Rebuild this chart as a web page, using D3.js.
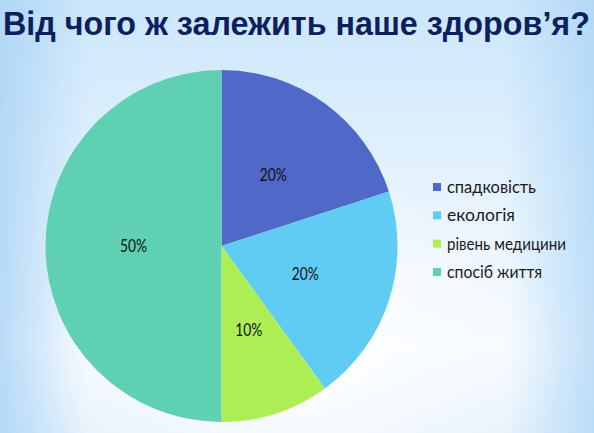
<!DOCTYPE html>
<html>
<head>
<meta charset="utf-8">
<script src="https://cdn.jsdelivr.net/npm/d3@7"></script>
<style>
html,body{margin:0;padding:0;background:#fff;}
svg{display:block;}
</style>
</head>
<body>
<svg id="chart" width="594" height="433"></svg>
<script>
const title = "Від чого ж залежить наше здоров’я?";
const categories = ["спадковість", "екологія", "рівень медицини", "спосіб життя"];
const values = [20, 20, 10, 50];
const labels = ["20%", "20%", "10%", "50%"];
const colors = ["#5068c8", "#60ccf4", "#aeee55", "#60d0b3"];

const W = 594, H = 433;
const svg = d3.select("#chart");
const defs = svg.append("defs");

// background
const lg = defs.append("linearGradient").attr("id","bgv").attr("x1",0).attr("y1",0).attr("x2",0).attr("y2",1);
lg.append("stop").attr("offset","0%").attr("stop-color","#cbe6fb");
lg.append("stop").attr("offset","45%").attr("stop-color","#e6f3fd");
lg.append("stop").attr("offset","80%").attr("stop-color","#f6fbff");
lg.append("stop").attr("offset","100%").attr("stop-color","#e4f1fc");
svg.append("rect").attr("width",W).attr("height",H).attr("fill","url(#bgv)");

const lh = defs.append("linearGradient").attr("id","bgh").attr("x1",0).attr("y1",0).attr("x2",1).attr("y2",0);
lh.append("stop").attr("offset","0%").attr("stop-color","#a9d3f5").attr("stop-opacity",0.8);
lh.append("stop").attr("offset","15%").attr("stop-color","#a9d3f5").attr("stop-opacity",0);
lh.append("stop").attr("offset","85%").attr("stop-color","#a9d3f5").attr("stop-opacity",0);
lh.append("stop").attr("offset","100%").attr("stop-color","#a9d3f5").attr("stop-opacity",0.7);
svg.append("rect").attr("width",W).attr("height",H).attr("fill","url(#bgh)");

const rg = defs.append("radialGradient").attr("id","bgr").attr("cx","0.5").attr("cy","0.85").attr("r","0.45");
rg.append("stop").attr("offset","0%").attr("stop-color","#ffffff").attr("stop-opacity",0.95);
rg.append("stop").attr("offset","100%").attr("stop-color","#ffffff").attr("stop-opacity",0);
svg.append("rect").attr("width",W).attr("height",H).attr("fill","url(#bgr)");

// title
const t = svg.append("text")
  .attr("x", 3).attr("y", 35)
  .attr("font-family", "Liberation Sans, Arial, sans-serif")
  .attr("font-weight", "bold")
  .attr("font-size", 30)
  .attr("fill", "#0d1f5c")
  .text(title);
const tw = t.node().getComputedTextLength();
t.attr("font-size", 30 * 587 / tw);

// pie
const cx = 221.5, cy = 246, R = 176;
const pie = d3.pie().sort(null).value(d => d).startAngle(0).endAngle(2*Math.PI);
const arcs = pie(values);
const arc = d3.arc().innerRadius(0).outerRadius(R);

const g = svg.append("g").attr("transform", `translate(${cx},${cy})`);
g.selectAll("path").data(arcs).join("path")
  .attr("d", arc)
  .attr("fill", (d,i) => colors[i]);

g.selectAll("text.lbl").data(arcs).join("text")
  .attr("class","lbl")
  .attr("transform", d => { const r = R*0.5, a = (d.startAngle+d.endAngle)/2; return `translate(${r*Math.sin(a)},${-r*Math.cos(a)})`; })
  .attr("text-anchor","middle")
  .attr("dy","0.36em")
  .attr("font-family","Lato, sans-serif")
  .attr("font-size",17.5)
  .attr("fill","#111")
  .attr("textLength",27)
  .attr("lengthAdjust","spacingAndGlyphs")
  .text((d,i) => labels[i]);

// legend
const lgG = svg.append("g");
const rows = lgG.selectAll("g").data(categories).join("g")
  .attr("transform", (d,i) => `translate(433, ${187 + i*28.3})`);
rows.append("rect").attr("x",0).attr("y",-4).attr("width",8).attr("height",8)
  .attr("fill", (d,i) => colors[i]);
rows.append("text").attr("x",14).attr("y",0).attr("dy","0.35em")
  .attr("font-family","Lato, sans-serif")
  .attr("font-size",17)
  .attr("fill","#1a1a1a")
  .attr("textLength", (d,i) => [89, 68, 119, 95][i])
  .attr("lengthAdjust","spacingAndGlyphs")
  .text(d => d);
</script>
</body>
</html>
